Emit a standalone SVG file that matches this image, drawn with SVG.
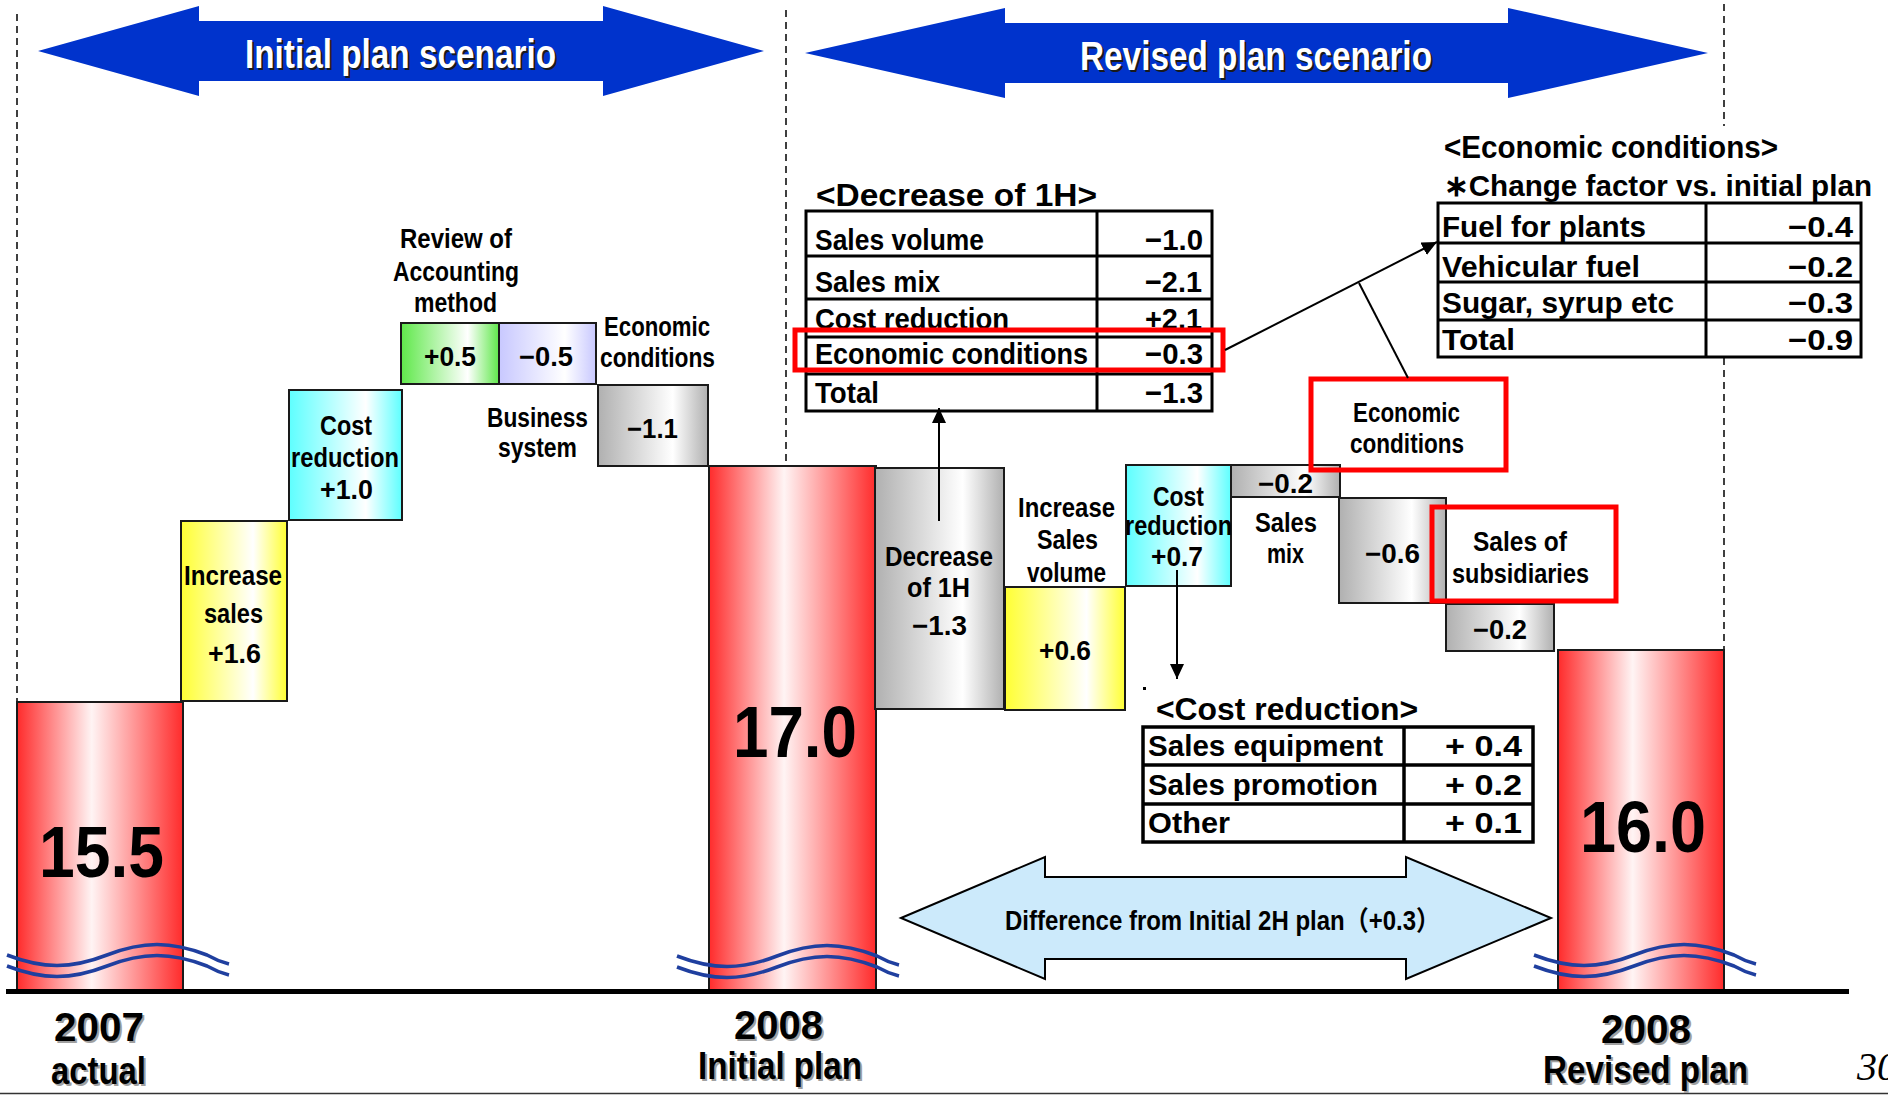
<svg xmlns="http://www.w3.org/2000/svg" width="1888" height="1095" viewBox="0 0 1888 1095">
  <style>
    .t { font-family: 'Liberation Sans', 'Noto Sans CJK JP', sans-serif; font-weight: 700; fill: #000; }
    .s27 { font-size: 27px; }
    .s29 { font-size: 29px; }
    .s30 { font-size: 30px; }
    .s31 { font-size: 31px; }
    .s32 { font-size: 32px; }
    .s38 { font-size: 38px; }
    .s40 { font-size: 40px; }
    .s72 { font-size: 72px; }
    .head { fill: #ffffff; }
    .headsh { fill: #1a1a1a; }
    .labsh { fill: #a0a0a0; }
    .box { stroke: #1a1a1a; stroke-width: 2; }
    .bar { stroke: #1a1a1a; stroke-width: 2; }
    .grid { fill: none; stroke: #000; stroke-width: 3; }
    .cell { fill: #fff; }
    .hl { fill: none; stroke: #ff0000; stroke-width: 5; }
    .dash { stroke: #000; stroke-width: 1.5; stroke-dasharray: 7 5; fill: none; }
    .wave { fill: none; stroke: #1f3f9f; stroke-width: 3.5; }
    .conn { stroke: #000; stroke-width: 2; fill: none; }
    .band { fill: #0033cc; }
  </style>
  <defs>
    <linearGradient id="gRed" x1="0" y1="0" x2="1" y2="0">
      <stop offset="0" stop-color="#ff2b2b"/><stop offset="0.45" stop-color="#fff4f4"/><stop offset="1" stop-color="#ff2b2b"/>
    </linearGradient>
    <linearGradient id="gYel" x1="0" y1="0" x2="1" y2="0">
      <stop offset="0" stop-color="#ffff33"/><stop offset="0.68" stop-color="#ffffff"/><stop offset="1" stop-color="#ffff33"/>
    </linearGradient>
    <linearGradient id="gCyan" x1="0" y1="0" x2="1" y2="0">
      <stop offset="0" stop-color="#5effff"/><stop offset="0.68" stop-color="#ffffff"/><stop offset="1" stop-color="#5effff"/>
    </linearGradient>
    <linearGradient id="gGreen" x1="0" y1="0" x2="1" y2="0">
      <stop offset="0" stop-color="#5fe84a"/><stop offset="0.68" stop-color="#ffffff"/><stop offset="1" stop-color="#5fe84a"/>
    </linearGradient>
    <linearGradient id="gLav" x1="0" y1="0" x2="1" y2="0">
      <stop offset="0" stop-color="#c8c8ff"/><stop offset="0.68" stop-color="#ffffff"/><stop offset="1" stop-color="#c8c8ff"/>
    </linearGradient>
    <linearGradient id="gGray" x1="0" y1="0" x2="1" y2="0">
      <stop offset="0" stop-color="#b0b0b0"/><stop offset="0.68" stop-color="#ffffff"/><stop offset="1" stop-color="#b0b0b0"/>
    </linearGradient>
    <marker id="arr" markerUnits="userSpaceOnUse" markerWidth="16" markerHeight="14" refX="15" refY="7" orient="auto">
      <path d="M0,0 L15,7 L0,14 z" fill="#000"/>
    </marker>
    <path id="wv" d="M0,0 C36,14 64,14 100,0 C136,-14 164,-14 200,0 C207,4 214,7 222,9"/>
  </defs>

  <rect x="0" y="0" width="1888" height="1095" fill="#ffffff"/>

  <!-- period separators -->
  <g id="separators">
    <line class="dash" x1="17" y1="14" x2="17" y2="702"/>
    <line class="dash" x1="786" y1="10" x2="786" y2="466"/>
    <line class="dash" x1="1724" y1="4" x2="1724" y2="126"/>
    <line class="dash" x1="1724" y1="358" x2="1724" y2="650"/>
  </g>

  <!-- scenario banners -->
  <g id="banner-initial">
    <polygon class="band" points="38,51 199,6 199,21 603,21 603,6 764,51 603,96 603,81 199,81 199,96"/>
    <text class="t s40 headsh" x="247" y="70" textLength="311" lengthAdjust="spacingAndGlyphs">Initial plan scenario</text>
    <text class="t s40 head" x="245" y="68" textLength="311" lengthAdjust="spacingAndGlyphs">Initial plan scenario</text>
  </g>
  <g id="banner-revised">
    <polygon class="band" points="805,53 1005,8 1005,23 1508,23 1508,8 1708,53 1508,98 1508,83 1005,83 1005,98"/>
    <text class="t s40 headsh" x="1082" y="72" textLength="352" lengthAdjust="spacingAndGlyphs">Revised plan scenario</text>
    <text class="t s40 head" x="1080" y="70" textLength="352" lengthAdjust="spacingAndGlyphs">Revised plan scenario</text>
  </g>

  <!-- totals -->
  <g id="bar-2007">
    <rect class="bar" x="17" y="702" width="166" height="288" fill="url(#gRed)"/>
    <text class="t s72" x="39" y="877" textLength="125" lengthAdjust="spacingAndGlyphs">15.5</text>
  </g>
  <g id="bar-2008-initial">
    <rect class="bar" x="709" y="466" width="167" height="524" fill="url(#gRed)"/>
    <text class="t s72" x="733" y="757" textLength="124" lengthAdjust="spacingAndGlyphs">17.0</text>
  </g>
  <g id="bar-2008-revised">
    <rect class="bar" x="1558" y="650" width="166" height="340" fill="url(#gRed)"/>
    <text class="t s72" x="1580" y="852" textLength="126" lengthAdjust="spacingAndGlyphs">16.0</text>
  </g>

  <!-- initial plan steps -->
  <g id="step-increase-sales">
    <rect class="box" x="181" y="521" width="106" height="180" fill="url(#gYel)"/>
    <text class="t s27" x="184" y="585" textLength="98" lengthAdjust="spacingAndGlyphs">Increase</text>
    <text class="t s27" x="204" y="623" textLength="59" lengthAdjust="spacingAndGlyphs">sales</text>
    <text class="t s27" x="208" y="663" textLength="53" lengthAdjust="spacingAndGlyphs">+1.6</text>
  </g>
  <g id="step-cost-reduction">
    <rect class="box" x="289" y="390" width="113" height="130" fill="url(#gCyan)"/>
    <text class="t s27" x="320" y="435" textLength="52" lengthAdjust="spacingAndGlyphs">Cost</text>
    <text class="t s27" x="291" y="467" textLength="108" lengthAdjust="spacingAndGlyphs">reduction</text>
    <text class="t s27" x="320" y="499" textLength="53" lengthAdjust="spacingAndGlyphs">+1.0</text>
  </g>
  <g id="step-accounting">
    <rect class="box" x="401" y="323" width="98" height="61" fill="url(#gGreen)"/>
    <text class="t s27" x="400" y="248" textLength="112" lengthAdjust="spacingAndGlyphs">Review of</text>
    <text class="t s27" x="393" y="281" textLength="126" lengthAdjust="spacingAndGlyphs">Accounting</text>
    <text class="t s27" x="414" y="312" textLength="83" lengthAdjust="spacingAndGlyphs">method</text>
    <text class="t s27" x="424" y="366" textLength="52" lengthAdjust="spacingAndGlyphs">+0.5</text>
  </g>
  <g id="step-business-system">
    <rect class="box" x="499" y="323" width="97" height="61" fill="url(#gLav)"/>
    <text class="t s27" x="519" y="366" textLength="54" lengthAdjust="spacingAndGlyphs">−0.5</text>
    <text class="t s27" x="487" y="427" textLength="101" lengthAdjust="spacingAndGlyphs">Business</text>
    <text class="t s27" x="498" y="457" textLength="79" lengthAdjust="spacingAndGlyphs">system</text>
  </g>
  <g id="step-economic-initial">
    <rect class="box" x="598" y="385" width="110" height="81" fill="url(#gGray)"/>
    <text class="t s27" x="604" y="336" textLength="106" lengthAdjust="spacingAndGlyphs">Economic</text>
    <text class="t s27" x="600" y="367" textLength="115" lengthAdjust="spacingAndGlyphs">conditions</text>
    <text class="t s27" x="627" y="438" textLength="51" lengthAdjust="spacingAndGlyphs">−1.1</text>
  </g>

  <!-- revised plan steps -->
  <g id="step-decrease-1h">
    <rect class="box" x="875" y="468" width="129" height="241" fill="url(#gGray)"/>
    <text class="t s27" x="885" y="566" textLength="108" lengthAdjust="spacingAndGlyphs">Decrease</text>
    <text class="t s27" x="907" y="597" textLength="63" lengthAdjust="spacingAndGlyphs">of 1H</text>
    <text class="t s27" x="912" y="635" textLength="55" lengthAdjust="spacingAndGlyphs">−1.3</text>
  </g>
  <g id="step-sales-volume">
    <rect class="box" x="1005" y="587" width="120" height="123" fill="url(#gYel)"/>
    <text class="t s27" x="1018" y="517" textLength="97" lengthAdjust="spacingAndGlyphs">Increase</text>
    <text class="t s27" x="1037" y="549" textLength="61" lengthAdjust="spacingAndGlyphs">Sales</text>
    <text class="t s27" x="1027" y="582" textLength="79" lengthAdjust="spacingAndGlyphs">volume</text>
    <text class="t s27" x="1039" y="660" textLength="52" lengthAdjust="spacingAndGlyphs">+0.6</text>
  </g>
  <g id="step-cost-reduction-2h">
    <rect class="box" x="1126" y="465" width="105" height="121" fill="url(#gCyan)"/>
    <text class="t s27" x="1153" y="506" textLength="51" lengthAdjust="spacingAndGlyphs">Cost</text>
    <text class="t s27" x="1125" y="535" textLength="107" lengthAdjust="spacingAndGlyphs">reduction</text>
    <text class="t s27" x="1151" y="566" textLength="52" lengthAdjust="spacingAndGlyphs">+0.7</text>
  </g>
  <g id="step-sales-mix">
    <rect class="box" x="1231" y="465" width="109" height="32" fill="url(#gGray)"/>
    <text class="t s27" x="1258" y="493" textLength="55" lengthAdjust="spacingAndGlyphs">−0.2</text>
    <text class="t s27" x="1255" y="532" textLength="62" lengthAdjust="spacingAndGlyphs">Sales</text>
    <text class="t s27" x="1267" y="563" textLength="37" lengthAdjust="spacingAndGlyphs">mix</text>
  </g>
  <g id="step-economic-2h">
    <rect class="box" x="1339" y="498" width="107" height="105" fill="url(#gGray)"/>
    <text class="t s27" x="1365" y="563" textLength="55" lengthAdjust="spacingAndGlyphs">−0.6</text>
  </g>
  <g id="step-subsidiaries">
    <rect class="box" x="1446" y="604" width="108" height="47" fill="url(#gGray)"/>
    <text class="t s27" x="1473" y="639" textLength="54" lengthAdjust="spacingAndGlyphs">−0.2</text>
  </g>
  <g id="label-subsidiaries">
    <rect class="hl" x="1432" y="507" width="184" height="94"/>
    <text class="t s27" x="1473" y="551" textLength="94" lengthAdjust="spacingAndGlyphs">Sales of</text>
    <text class="t s27" x="1452" y="583" textLength="137" lengthAdjust="spacingAndGlyphs">subsidiaries</text>
  </g>
  <g id="label-economic">
    <rect class="hl" x="1311" y="379" width="195" height="91"/>
    <text class="t s27" x="1353" y="422" textLength="107" lengthAdjust="spacingAndGlyphs">Economic</text>
    <text class="t s27" x="1350" y="453" textLength="114" lengthAdjust="spacingAndGlyphs">conditions</text>
  </g>

  <!-- breakdown: decrease of 1H -->
  <g id="table-decrease-1h">
    <text class="t s31" x="816" y="206" textLength="281" lengthAdjust="spacingAndGlyphs">&lt;Decrease of 1H&gt;</text>
    <rect class="cell" x="806" y="211" width="406" height="200"/>
    <g class="grid">
      <rect x="806" y="211" width="406" height="200"/>
      <line x1="1097" y1="211" x2="1097" y2="411"/>
      <line x1="806" y1="256" x2="1212" y2="256"/>
      <line x1="806" y1="299" x2="1212" y2="299"/>
      <line x1="806" y1="337" x2="1212" y2="337"/>
      <line x1="806" y1="374" x2="1212" y2="374"/>
    </g>
    <text class="t s30" x="815" y="250" textLength="169" lengthAdjust="spacingAndGlyphs">Sales volume</text>
    <text class="t s30" x="815" y="292" textLength="125" lengthAdjust="spacingAndGlyphs">Sales mix</text>
    <text class="t s30" x="815" y="329" textLength="194" lengthAdjust="spacingAndGlyphs">Cost reduction</text>
    <text class="t s30" x="815" y="364" textLength="273" lengthAdjust="spacingAndGlyphs">Economic conditions</text>
    <text class="t s30" x="815" y="403" textLength="64" lengthAdjust="spacingAndGlyphs">Total</text>
    <text class="t s30" x="1145" y="250" textLength="58" lengthAdjust="spacingAndGlyphs">−1.0</text>
    <text class="t s30" x="1145" y="292" textLength="57" lengthAdjust="spacingAndGlyphs">−2.1</text>
    <text class="t s30" x="1145" y="329" textLength="57" lengthAdjust="spacingAndGlyphs">+2.1</text>
    <text class="t s30" x="1145" y="364" textLength="58" lengthAdjust="spacingAndGlyphs">−0.3</text>
    <text class="t s30" x="1145" y="403" textLength="58" lengthAdjust="spacingAndGlyphs">−1.3</text>
    <rect class="hl" x="795" y="330" width="428" height="40"/>
  </g>

  <!-- breakdown: economic conditions -->
  <g id="table-economic">
    <text class="t s31" x="1444" y="158" textLength="334" lengthAdjust="spacingAndGlyphs">&lt;Economic conditions&gt;</text>
    <text class="t s30" x="1444" y="196" textLength="428" lengthAdjust="spacingAndGlyphs">∗Change factor vs. initial plan</text>
    <rect class="cell" x="1438" y="203" width="423" height="154"/>
    <g class="grid">
      <rect x="1438" y="203" width="423" height="154"/>
      <line x1="1706" y1="203" x2="1706" y2="357"/>
      <line x1="1438" y1="243" x2="1861" y2="243"/>
      <line x1="1438" y1="282" x2="1861" y2="282"/>
      <line x1="1438" y1="320" x2="1861" y2="320"/>
    </g>
    <text class="t s29" x="1442" y="237" textLength="204" lengthAdjust="spacingAndGlyphs">Fuel for plants</text>
    <text class="t s29" x="1442" y="277" textLength="198" lengthAdjust="spacingAndGlyphs">Vehicular fuel</text>
    <text class="t s29" x="1442" y="313" textLength="232" lengthAdjust="spacingAndGlyphs">Sugar, syrup etc</text>
    <text class="t s29" x="1442" y="350" textLength="73" lengthAdjust="spacingAndGlyphs">Total</text>
    <text class="t s29" x="1788" y="237" textLength="65" lengthAdjust="spacingAndGlyphs">−0.4</text>
    <text class="t s29" x="1788" y="277" textLength="65" lengthAdjust="spacingAndGlyphs">−0.2</text>
    <text class="t s29" x="1788" y="313" textLength="65" lengthAdjust="spacingAndGlyphs">−0.3</text>
    <text class="t s29" x="1788" y="350" textLength="65" lengthAdjust="spacingAndGlyphs">−0.9</text>
  </g>

  <!-- breakdown: cost reduction -->
  <g id="table-cost-reduction">
    <rect x="1143" y="687" width="3" height="3" fill="#000"/>
    <text class="t s32" x="1156" y="720" textLength="262" lengthAdjust="spacingAndGlyphs">&lt;Cost reduction&gt;</text>
    <rect class="cell" x="1143" y="727" width="390" height="115"/>
    <g class="grid" style="stroke-width:3.5">
      <rect x="1143" y="727" width="390" height="115"/>
      <line x1="1404" y1="727" x2="1404" y2="842"/>
      <line x1="1143" y1="765" x2="1533" y2="765"/>
      <line x1="1143" y1="804" x2="1533" y2="804"/>
    </g>
    <text class="t s30" x="1148" y="756" textLength="235" lengthAdjust="spacingAndGlyphs">Sales equipment</text>
    <text class="t s30" x="1148" y="795" textLength="230" lengthAdjust="spacingAndGlyphs">Sales promotion</text>
    <text class="t s30" x="1148" y="833" textLength="82" lengthAdjust="spacingAndGlyphs">Other</text>
    <text class="t s30" x="1445" y="756" textLength="77" lengthAdjust="spacingAndGlyphs">+ 0.4</text>
    <text class="t s30" x="1445" y="795" textLength="77" lengthAdjust="spacingAndGlyphs">+ 0.2</text>
    <text class="t s30" x="1445" y="833" textLength="77" lengthAdjust="spacingAndGlyphs">+ 0.1</text>
  </g>

  <!-- 2H difference -->
  <g id="difference-2h">
    <polygon points="901,918 1045,857 1045,877 1406,877 1406,857 1551,918 1406,979 1406,959 1045,959 1045,979" fill="#cceafb" stroke="#000" stroke-width="2"/>
    <text class="t s27" x="1005" y="930" textLength="435" lengthAdjust="spacingAndGlyphs">Difference from Initial 2H plan（+0.3）</text>
  </g>

  <!-- axis breaks -->
  <g id="breaks">
    <use href="#wv" class="wave" x="7" y="955"/>
    <use href="#wv" class="wave" x="7" y="966"/>
    <use href="#wv" class="wave" x="677" y="956"/>
    <use href="#wv" class="wave" x="677" y="967"/>
    <use href="#wv" class="wave" x="1534" y="955"/>
    <use href="#wv" class="wave" x="1534" y="966"/>
  </g>

  <!-- axis -->
  <g id="axis">
    <rect x="6" y="989" width="1843" height="5" fill="#000"/>
    <line x1="0" y1="1093.5" x2="1888" y2="1093.5" stroke="#333" stroke-width="1.5"/>
  </g>

  <!-- period labels -->
  <g id="label-2007">
    <text class="t s40 labsh" x="56" y="1043" textLength="90" lengthAdjust="spacingAndGlyphs">2007</text>
    <text class="t s40" x="54" y="1041" textLength="90" lengthAdjust="spacingAndGlyphs">2007</text>
    <text class="t s38 labsh" x="53" y="1086" textLength="95" lengthAdjust="spacingAndGlyphs">actual</text>
    <text class="t s38" x="51" y="1084" textLength="95" lengthAdjust="spacingAndGlyphs">actual</text>
  </g>
  <g id="label-2008-initial">
    <text class="t s40 labsh" x="736" y="1041" textLength="89" lengthAdjust="spacingAndGlyphs">2008</text>
    <text class="t s40" x="734" y="1039" textLength="89" lengthAdjust="spacingAndGlyphs">2008</text>
    <text class="t s38 labsh" x="700" y="1081" textLength="164" lengthAdjust="spacingAndGlyphs">Initial plan</text>
    <text class="t s38" x="698" y="1079" textLength="164" lengthAdjust="spacingAndGlyphs">Initial plan</text>
  </g>
  <g id="label-2008-revised">
    <text class="t s40 labsh" x="1603" y="1045" textLength="90" lengthAdjust="spacingAndGlyphs">2008</text>
    <text class="t s40" x="1601" y="1043" textLength="90" lengthAdjust="spacingAndGlyphs">2008</text>
    <text class="t s38 labsh" x="1545" y="1085" textLength="205" lengthAdjust="spacingAndGlyphs">Revised plan</text>
    <text class="t s38" x="1543" y="1083" textLength="205" lengthAdjust="spacingAndGlyphs">Revised plan</text>
  </g>
  <text x="1857" y="1080" font-family="'Liberation Serif', serif" font-style="italic" font-size="40" fill="#000">30</text>

  <!-- connectors -->
  <g id="connectors">
    <line class="conn" x1="939" y1="521" x2="939" y2="408" marker-end="url(#arr)"/>
    <line class="conn" x1="1177" y1="570" x2="1177" y2="679" marker-end="url(#arr)"/>
    <line class="conn" x1="1225" y1="350" x2="1437" y2="242" marker-end="url(#arr)"/>
    <line class="conn" x1="1408" y1="378" x2="1359" y2="283"/>
  </g>
</svg>
